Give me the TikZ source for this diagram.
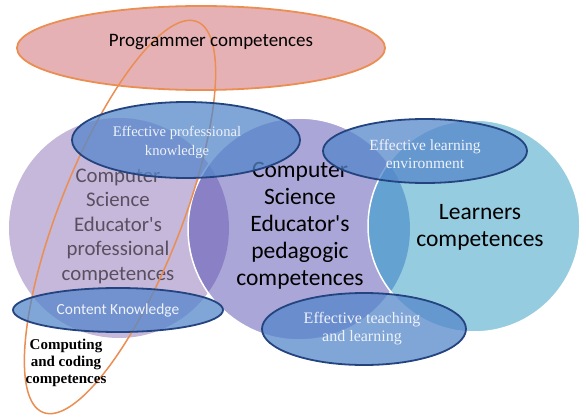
\documentclass[tikz,border=0pt]{standalone}
\usepackage{fontspec}
\setmainfont{Liberation Serif}
\setsansfont{Carlito}
\definecolor{progfill}{RGB}{230,177,181}
\definecolor{progline}{RGB}{234,142,82}
\definecolor{profcircle}{RGB}{198,184,218}
\definecolor{pedcircle}{RGB}{170,166,215}
\definecolor{learncircle}{RGB}{150,204,224}
\definecolor{lensleft}{RGB}{138,128,198}
\definecolor{lensright}{RGB}{100,162,210}
\definecolor{ovalfill}{RGB}{84,134,202}
\definecolor{ovalline}{RGB}{36,68,128}
\definecolor{ovaltext}{RGB}{238,242,250}
\definecolor{greytext}{RGB}{88,80,96}

\begin{document}
\begin{tikzpicture}[x=1pt,y=1pt,
      circ/.style={draw=white,line width=1.5pt},
      oval/.style={fill=ovalfill,fill opacity=0.74,draw=ovalline,
                   draw opacity=1,line width=1.8pt},
      lbl/.style={font=\sffamily,align=center,inner sep=0pt},
      ovlbl/.style={font=\rmfamily,text=ovaltext,align=center,inner sep=0pt}]
    \useasboundingbox (0,0) rectangle (586,416);
    \fill[white] (0,0) rectangle (586,416);
    % centres of the three circles
    \coordinate (L) at (119,188);
    \coordinate (M) at (299,187);
    \coordinate (R) at (474,190);
    % programmer ellipse on top
    \filldraw[fill=progfill,draw=progline,line width=1.8pt]
      (201,368) ellipse [x radius=184, y radius=42];
    % the three circles and their overlaps
    \fill[profcircle] (L) circle [radius=110];
    \fill[pedcircle] (M) circle [radius=111];
    \begin{scope}
      \clip (L) circle [radius=110];
      \fill[lensleft] (M) circle [radius=111];
    \end{scope}
    \draw[circ] (M) circle [radius=111];
    \fill[learncircle] (R) circle [radius=106];
    \begin{scope}
      \clip (M) circle [radius=111];
      \fill[lensright] (R) circle [radius=106];
    \end{scope}
    \draw[circ] (R) circle [radius=106];
    % circle texts
    \node[lbl,text=greytext,font=\sffamily\fontsize{20.8}{24.5}\selectfont] (prof) at (118,190)
      {Computer\\Science\\Educator\textquotesingle s\\professional\\competences};
    \node[lbl,font=\sffamily\fontsize{23.5}{27}\selectfont] (ped) at (300,190)
      {Computer\\Science\\Educator\textquotesingle s\\pedagogic\\competences};
    \node[lbl,font=\sffamily\fontsize{23.5}{27}\selectfont] (learn) at (480,189)
      {Learners\\competences};
    % computing and coding loop
    \draw[progline,line width=1.5pt,rotate around={68.5:(120,199)}]
      (120,199) ellipse [x radius=210, y radius=61];
    % the four small ellipses
    \filldraw[oval] (186,276) ellipse [x radius=114, y radius=38];
    \filldraw[oval] (425,265) ellipse [x radius=102, y radius=32];
    \filldraw[oval] (118,106) ellipse [x radius=105, y radius=22];
    \filldraw[oval] (364,87) ellipse [x radius=102, y radius=36];
    \node[ovlbl,font=\rmfamily\fontsize{14.6}{19}\selectfont] (know) at (177,273.5)
      {Effective professional\\knowledge};
    \node[ovlbl,font=\rmfamily\fontsize{15.5}{18}\selectfont] (env) at (425,262)
      {Effective learning\\environment};
    \node[lbl,text=ovaltext,font=\sffamily\fontsize{15.4}{18}\selectfont] (content) at (118,106)
      {Content Knowledge};
    \node[ovlbl,font=\rmfamily\fontsize{16}{18}\selectfont] (teach) at (362,87)
      {Effective teaching\\and learning};
    % free texts
    \node[lbl,font=\sffamily\fontsize{19}{22}\selectfont] (prog) at (211,374)
      {Programmer competences};
    \node[lbl,font=\rmfamily\bfseries\fontsize{15}{17}\selectfont] (coding) at (66,53)
      {Computing\\and coding\\competences};
  \end{tikzpicture}
\end{document}
